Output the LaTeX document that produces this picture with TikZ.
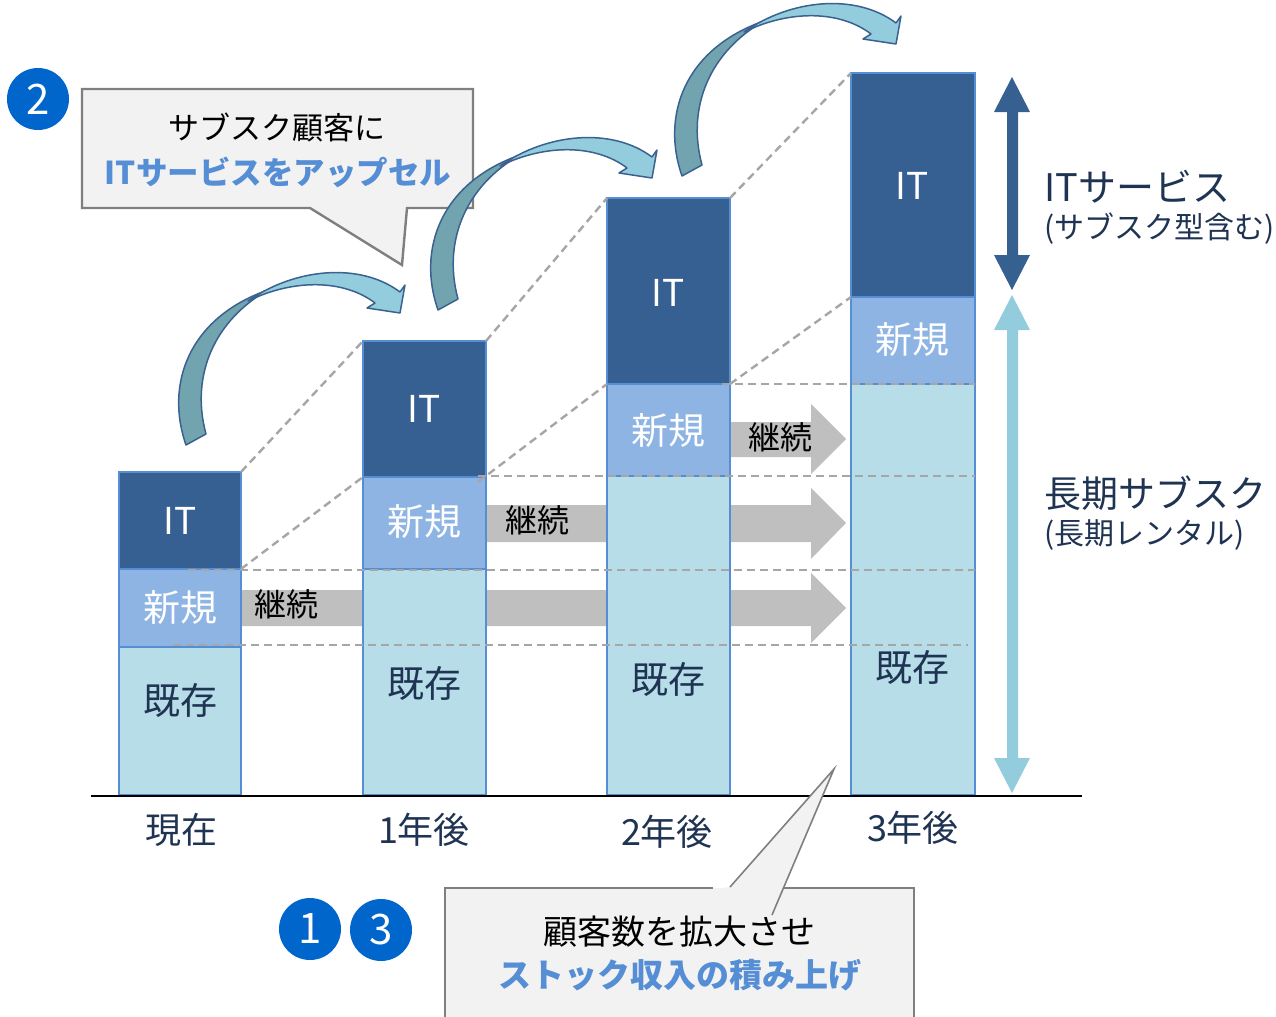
\documentclass[tikz,border=0pt]{standalone}
\usepackage{fontspec}
\setmainfont{Noto Sans CJK JP}
\usetikzlibrary{arrows.meta}
\definecolor{itc}{HTML}{376092}
\definecolor{newc}{HTML}{8EB4E3}
\definecolor{oldc}{HTML}{B7DEE8}
\definecolor{barline}{HTML}{558ED5}
\definecolor{grayarr}{HTML}{BFBFBF}
\definecolor{dashc}{HTML}{A6A6A6}
\definecolor{navy}{HTML}{1F3352}
\definecolor{blueT}{HTML}{558ED5}
\definecolor{circc}{HTML}{0066CC}
\definecolor{calfill}{HTML}{F2F2F2}
\definecolor{calline}{HTML}{7F7F7F}
\definecolor{arrdark}{HTML}{72A4AF}
\definecolor{arrlight}{HTML}{93CDDD}
\definecolor{arrline}{HTML}{3A6190}
\definecolor{darkarr}{HTML}{36608F}
\definecolor{lightarr}{HTML}{93CDDD}
\newcommand{\fsz}[1]{\fontsize{#1}{#1}\selectfont}
\newcommand{\curvedarrowshape}{%
  \filldraw[fill=arrdark, draw=arrline, line width=0.75pt, line join=round]
    (186,445) .. controls (165,385) and (188,318) .. (268,290)
    .. controls (215,320) and (190,375) .. (206,434) -- cycle;
  \filldraw[fill=arrlight, draw=arrline, line width=0.75pt, line join=round]
    (248,301) .. controls (295,268) and (360,262) .. (400,292)
    -- (405,285) -- (400,313) -- (367,308) -- (375,303)
    .. controls (345,280) and (295,278) .. (248,301) -- cycle;
}
\tikzset{
  seg/.style={draw=barline, line width=1pt},
  itseg/.style={seg, fill=itc},
  newseg/.style={seg, fill=newc},
  oldseg/.style={seg, fill=oldc},
  dashl/.style={draw=dashc, line width=1.2pt, dash pattern=on 4pt off 2.5pt},
  garrow/.style={fill=grayarr},
  lblW/.style={text=white, font=\fsz{18.5}, inner sep=0pt},
  lblN/.style={text=navy, font=\fsz{18.5}, inner sep=0pt},
  axl/.style={text=navy, font=\fsz{18}, inner sep=0pt},
  kz/.style={text=black, font=\fsz{16}, inner sep=0pt},
  callout/.style={fill=calfill, draw=calline, line width=1.2pt, line join=miter},
  circnum/.style={circle, fill=circc, text=white, minimum size=31pt, inner sep=0pt, font=\fsz{21}},
  rtxtL/.style={text=navy, anchor=west, inner sep=0pt},
}
\begin{document}
\begin{tikzpicture}[x=0.5pt,y=-0.5pt]
\useasboundingbox (0,0) rectangle (1276,1017);

% gray continuation arrows
\path[garrow] (241,590) -- (811,590) -- (811,573) -- (846,608) -- (811,643) -- (811,626) -- (241,626) -- cycle;
\path[garrow] (486,505) -- (811,505) -- (811,488) -- (846,523) -- (811,559) -- (811,542) -- (486,542) -- cycle;
\path[garrow] (730,422) -- (811,422) -- (811,404) -- (846,439) -- (811,474) -- (811,457) -- (730,457) -- cycle;

% bars
\draw[oldseg] (119,647) rectangle (241,795);
\draw[newseg] (119,569) rectangle (241,647);
\draw[itseg]  (119,472) rectangle (241,569);

\draw[oldseg] (363,569) rectangle (486,795);
\draw[newseg] (363,477) rectangle (486,569);
\draw[itseg]  (363,341) rectangle (486,477);

\draw[oldseg] (607,476) rectangle (730,795);
\draw[newseg] (607,384) rectangle (730,476);
\draw[itseg]  (607,198) rectangle (730,384);

\draw[oldseg] (851,384) rectangle (975,795);
\draw[newseg] (851,297) rectangle (975,384);
\draw[itseg]  (851,73) rectangle (975,297);

% dashed guide lines
\draw[dashl] (173,645) -- (968,645);
\draw[dashl] (188,570) -- (975,570);
\draw[dashl] (478,476) -- (975,476);
\draw[dashl] (722,384) -- (975,384);
\draw[dashl] (241,569) -- (363,477);
\draw[dashl] (241,472) -- (363,341);
\draw[dashl] (478,482) -- (607,384);
\draw[dashl] (486,341) -- (607,198);
\draw[dashl] (730,384) -- (851,297);
\draw[dashl] (730,198) -- (851,73);

% bar labels
\node[lblW] (it0) at (180,521) {IT};
\node[lblW] (nw0) at (180,608) {新規};
\node[lblN] (ex0) at (180,700) {既存};
\node[lblW] (it1) at (424,409) {IT};
\node[lblW] (nw1) at (424,522) {新規};
\node[lblN] (ex1) at (424,683) {既存};
\node[lblW] (it2) at (668,293) {IT};
\node[lblW] (nw2) at (668,431) {新規};
\node[lblN] (ex2) at (668,679) {既存};
\node[lblW] (it3) at (912,186) {IT};
\node[lblW] (nw3) at (912,340) {新規};
\node[lblN] (ex3) at (912,667) {既存};

% continuation labels
\node[kz] (kz1) at (286,604) {継続};
\node[kz] (kz2) at (537,520) {継続};
\node[kz] (kz3) at (780,437) {継続};

% baseline
\draw[black, line width=0.8pt] (91,796) -- (1082,796);

% axis labels
\node[axl] (t0) at (181,830) {現在};
\node[axl] (t1) at (424,830) {1年後};
\node[axl] (t2) at (667,832) {2年後};
\node[axl] (t3) at (913,828) {3年後};

% right side double arrows
\fill[darkarr] (1012,77) -- (1030,112) -- (1018,112) -- (1018,255) -- (1030,255) -- (1012,290)
  -- (994,255) -- (1007,255) -- (1007,112) -- (994,112) -- cycle;
\fill[lightarr] (1012,295) -- (1030,330) -- (1018,330) -- (1018,758) -- (1030,758) -- (1012,793)
  -- (994,758) -- (1007,758) -- (1007,330) -- (994,330) -- cycle;

\node[rtxtL, font=\fsz{19}] (its) at (1044,187) {ITサービス};
\node[rtxtL, font=\fsz{15}] (itsub) at (1044,229) {(サブスク型含む)};
\node[rtxtL, font=\fsz{18.5}] (lts) at (1044,493) {長期サブスク};
\node[rtxtL, font=\fsz{15}] (ltsub) at (1044,535) {(長期レンタル)};

% top callout
\filldraw[callout] (82,89) -- (473,89) -- (473,208) -- (407,208) -- (402,265) -- (310,208) -- (82,208) -- cycle;
\node[inner sep=0pt, font=\fsz{15.5}] (c1a) at (277,127) {サブスク顧客に};
\node[inner sep=0pt, font=\fsz{15.75}\bfseries, text=blueT] (c1b) at (278,172) {ITサービスをアップセル};
\node[circnum] (n2) at (38,99) {2};

% curved arrows
\curvedarrowshape
\begin{scope}[shift={(252,-135)}]
\curvedarrowshape
\end{scope}
\begin{scope}[shift={(496,-269)}]
\curvedarrowshape
\end{scope}

% bottom callout
\fill[calfill] (445,888) rectangle (914,1030);
\fill[calfill] (713,889) -- (730,887) -- (834,769) -- (772,915) -- (785,889) -- cycle;
\draw[calline, line width=1.2pt] (713,888) -- (445,888) -- (445,1030);
\draw[calline, line width=1.2pt] (783,888) -- (914,888) -- (914,1030);
\draw[calline, line width=0.8pt] (730,887) -- (834,769) -- (772,915);
\node[inner sep=0pt, font=\fsz{17}] (c2a) at (679,932) {顧客数を拡大させ};
\node[inner sep=0pt, font=\fsz{16.5}\bfseries, text=blueT] (c2b) at (680,975) {ストック収入の積み上げ};
\node[circnum] (n1) at (310,929) {1};
\node[circnum] (n3) at (381,930) {3};

\end{tikzpicture}
\end{document}
